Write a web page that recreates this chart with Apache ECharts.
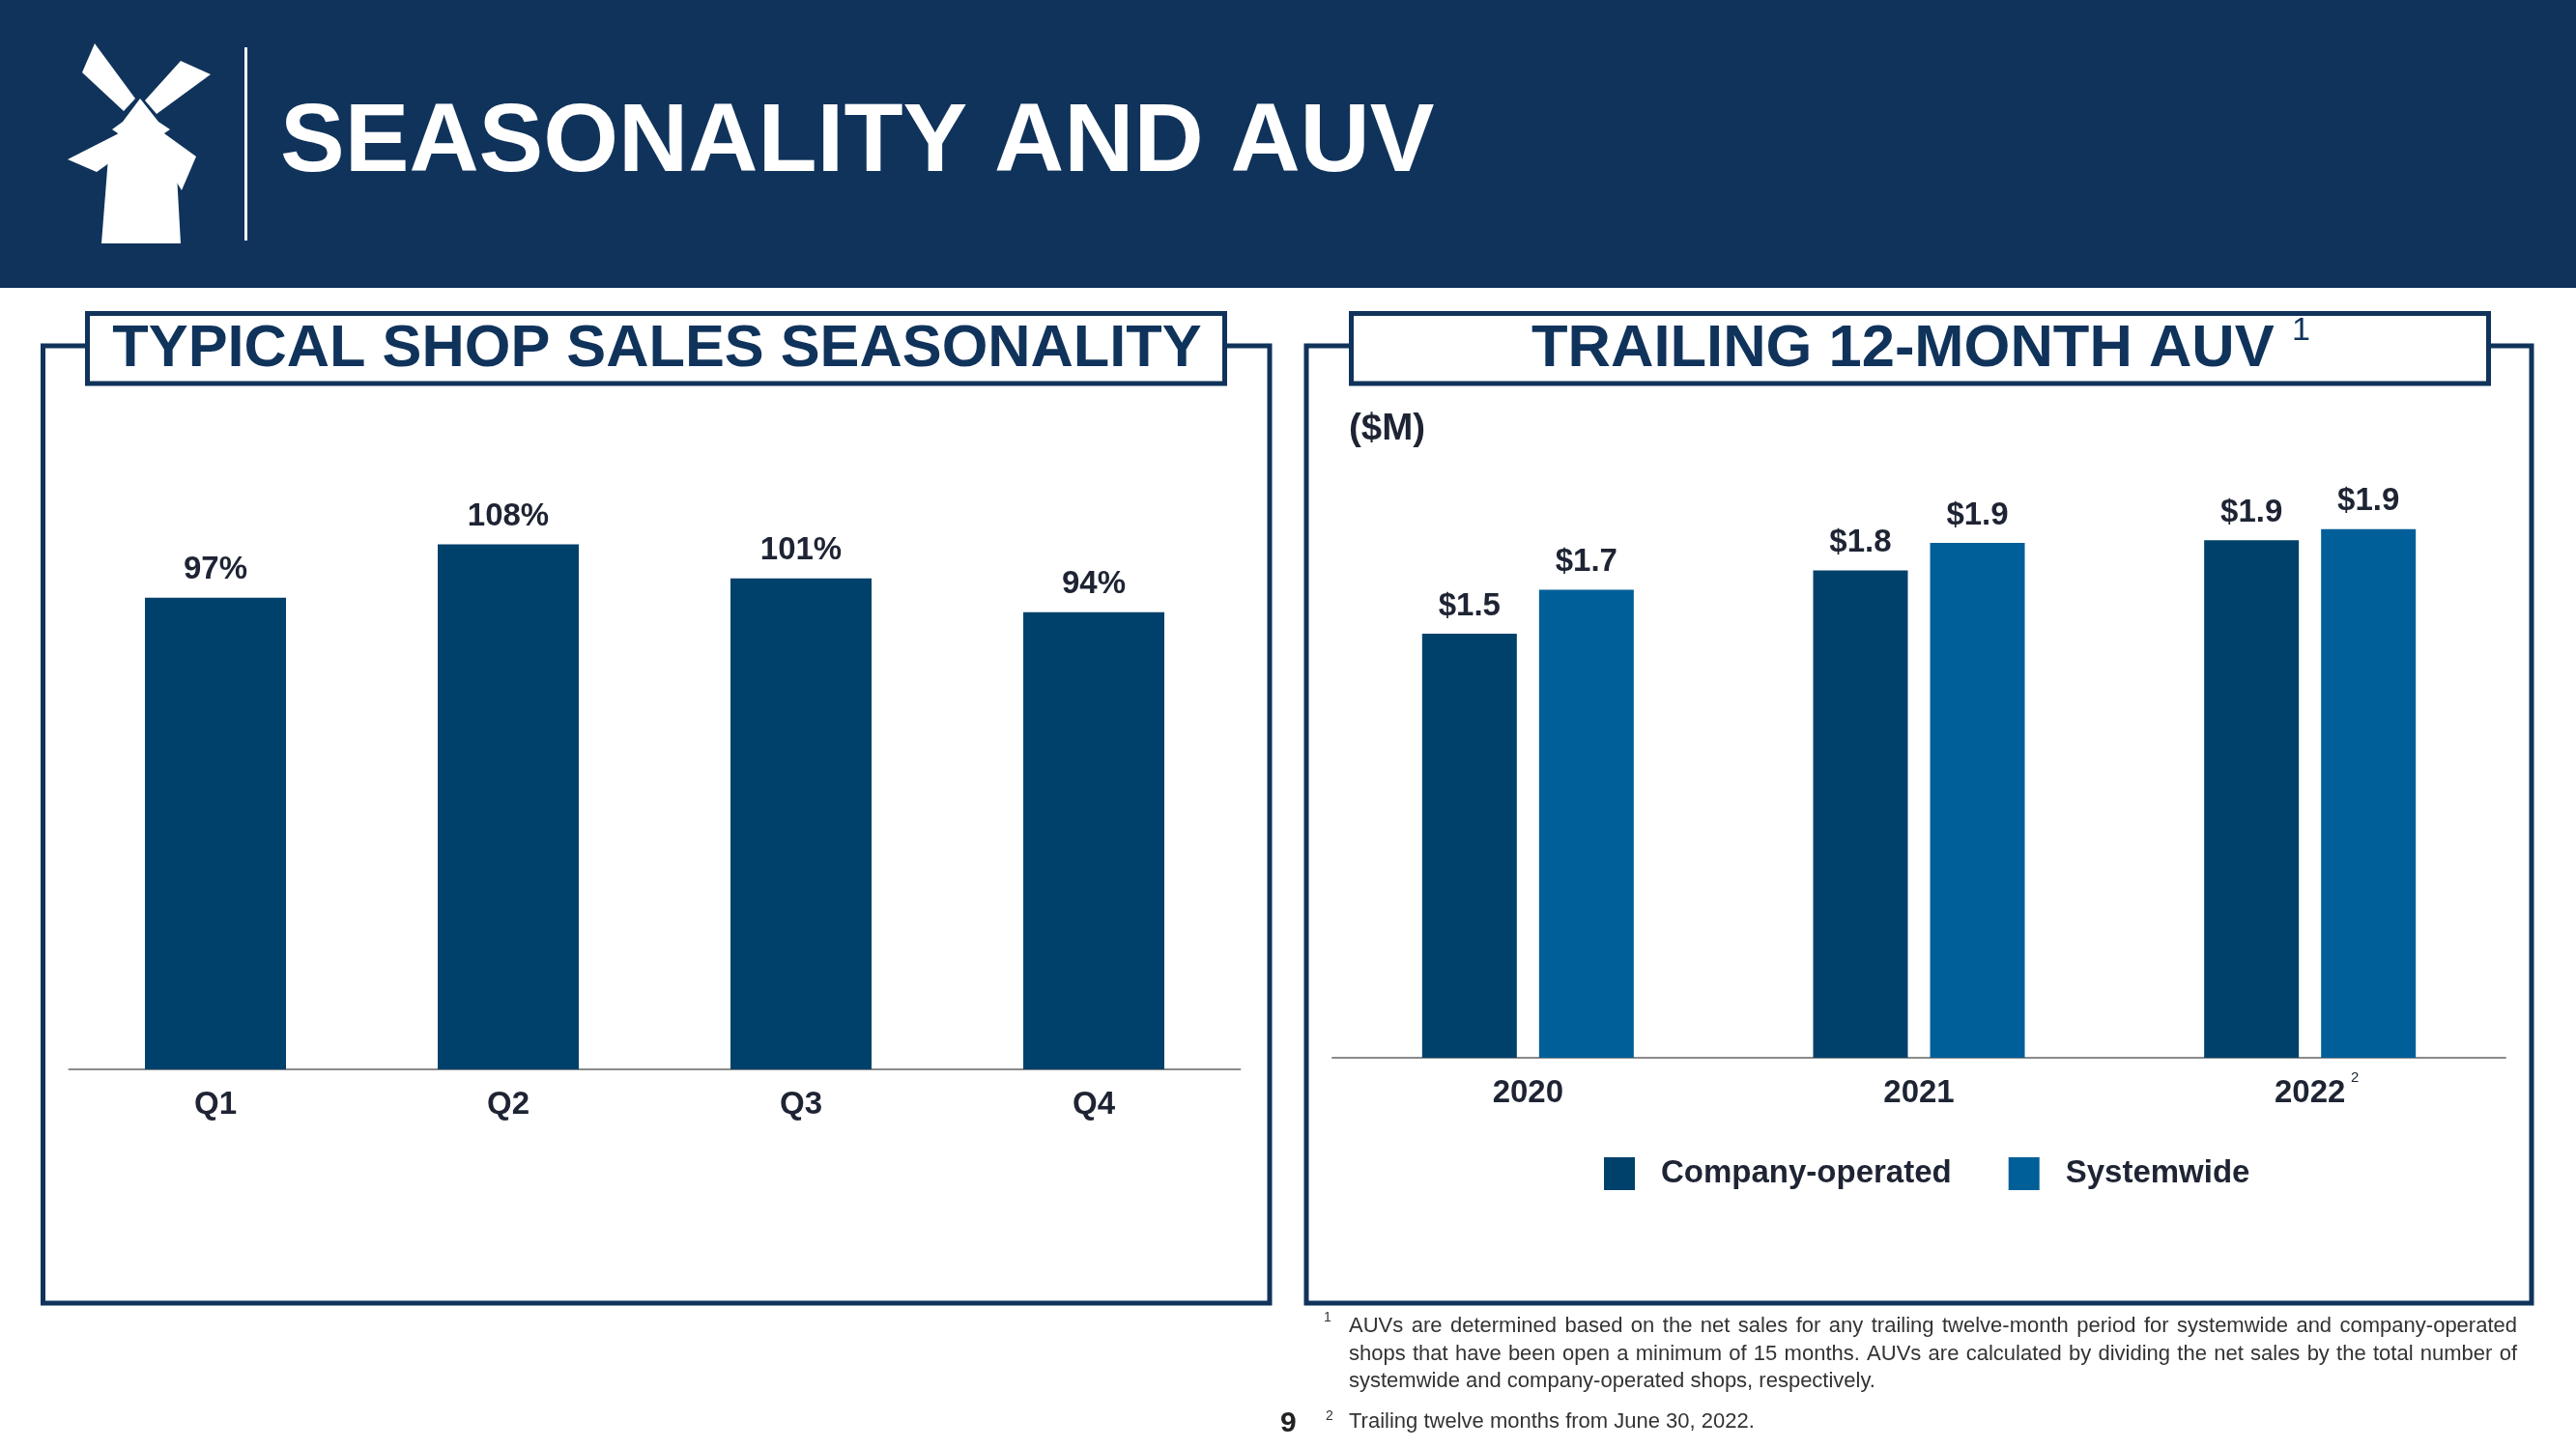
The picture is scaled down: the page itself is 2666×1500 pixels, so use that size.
<!DOCTYPE html>
<html>
<head>
<meta charset="utf-8">
<script src="https://cdn.jsdelivr.net/npm/echarts@6/dist/echarts.min.js"></script>
<style>
html,body{margin:0;padding:0;background:#fff;}
#chart{width:2666px;height:1500px;}
</style>
</head>
<body>
<div id="chart"></div>
<script>
// ---- Data ----
const quarters = ['Q1', 'Q2', 'Q3', 'Q4'];
const seasonalityPct = [97, 108, 101, 94];
const years = ['2020', '2021', '2022'];
const companyOperatedAUV = [1.54, 1.77, 1.88];
const systemwideAUV = [1.70, 1.87, 1.92];
const seriesNames = ['Company-operated', 'Systemwide'];
const footnoteLines = [
  'AUVs are determined based on the net sales for any trailing twelve-month period for systemwide and company-operated',
  'shops that have been open a minimum of 15 months. AUVs are calculated by dividing the net sales by the total number of',
  'systemwide and company-operated shops, respectively.'
];
const footnote2 = 'Trailing twelve months from June 30, 2022.';

// ---- Styles ----
const NAVY = '#10335b';
const BAR_DARK = '#00416b';
const BAR_LIGHT = '#005f98';
const TXT = '#1e2433';
const FN = '#333333';
const FONT = '"Liberation Sans", Arial, sans-serif';

const chart = echarts.init(document.getElementById('chart'), null, {renderer: 'canvas'});

function txt(x, y, text, size, weight, fill, align) {
  return {type: 'text', x: x, y: y, z: 10,
    style: {text: text, fontSize: size, fontWeight: weight, fontFamily: FONT, fill: fill,
      align: align || 'left', verticalAlign: 'middle'}};
}

// justified footnote line: words spread to fill the given width
const measureCtx = document.createElement('canvas').getContext('2d');
measureCtx.font = '22px ' + FONT;
function justifiedLine(x, y, text, width) {
  const words = text.split(' ');
  const widths = words.map(w => measureCtx.measureText(w).width);
  const total = widths.reduce((a, b) => a + b, 0);
  const gap = (width - total) / (words.length - 1);
  const out = [];
  let cx = x;
  words.forEach((w, i) => {
    out.push(txt(cx, y, w, 22, 'normal', FN));
    cx += widths[i] + gap;
  });
  return out;
}

const graphics = [
  {type: 'rect', z: 0, shape: {x: 0, y: 0, width: 2666, height: 298}, style: {fill: NAVY}},
  // windmill logo
  {type: 'polygon', z: 1, shape: {points: [[105,252],[187,252],[182,163],[170,138],[176,134],[164,126],[145,102],[127,126],[116,134],[122,138],[112,163]]}, style: {fill: '#fff'}},
  {type: 'polygon', z: 1, shape: {points: [[98,45],[140,102],[128,115],[85,75]]}, style: {fill: '#fff'}},
  {type: 'polygon', z: 1, shape: {points: [[187,63],[218,77],[162,118],[150,104]]}, style: {fill: '#fff'}},
  {type: 'polygon', z: 1, shape: {points: [[125,137],[70,165],[100,178],[131,156]]}, style: {fill: '#fff'}},
  {type: 'polygon', z: 1, shape: {points: [[167,136],[203,162],[188,197],[165,160]]}, style: {fill: '#fff'}},
  {type: 'rect', z: 1, shape: {x: 253, y: 49, width: 3, height: 200}, style: {fill: '#fff'}},
  txt(290, 149, 'SEASONALITY AND AUV', 100, 'bold', '#fff'),
  // panel frames
  {type: 'rect', z: 1, shape: {x: 44.5, y: 358, width: 1269.5, height: 991}, style: {fill: null, stroke: NAVY, lineWidth: 5}},
  {type: 'rect', z: 1, shape: {x: 1352, y: 358, width: 1268, height: 991}, style: {fill: null, stroke: NAVY, lineWidth: 5}},
  {type: 'rect', z: 2, shape: {x: 90.5, y: 324.5, width: 1177, height: 72.5}, style: {fill: '#fff', stroke: NAVY, lineWidth: 5}},
  {type: 'rect', z: 2, shape: {x: 1398.5, y: 324.5, width: 1177, height: 72.5}, style: {fill: '#fff', stroke: NAVY, lineWidth: 5}},
  txt(680, 362, 'TYPICAL SHOP SALES SEASONALITY', 61.3, 'bold', NAVY, 'center'),
  txt(1585, 362, 'TRAILING 12-MONTH AUV', 61.5, 'bold', NAVY),
  txt(2372, 343, '1', 34, 'normal', NAVY),
  txt(1396, 444, '($M)', 38.5, 'bold', TXT),
  txt(2433, 1116, '2', 15, 'normal', TXT),
  // footnotes
  txt(1370, 1364, '1', 14, 'normal', FN),
  ...justifiedLine(1396, 1373, footnoteLines[0], 1209),
  ...justifiedLine(1396, 1402, footnoteLines[1], 1209),
  txt(1396, 1430, footnoteLines[2], 22, 'normal', FN),
  txt(1372, 1466, '2', 14, 'normal', FN),
  txt(1396, 1472, footnote2, 22, 'normal', FN),
  txt(1325, 1474, '9', 30, 'bold', '#222')
];

const labelStyle = {show: true, position: 'top', color: TXT, fontFamily: FONT, fontWeight: 'bold', fontSize: 33};

const option = {
  animation: false,
  backgroundColor: '#fff',
  graphic: {elements: graphics},
  legend: {
    data: seriesNames,
    left: 1655, top: 1193,
    icon: 'rect', itemWidth: 32, itemHeight: 34, itemGap: 59,
    textStyle: {color: TXT, fontFamily: FONT, fontWeight: 'bold', fontSize: 33, padding: [0, 0, 0, 22]},
    selectedMode: false
  },
  grid: [
    {left: 71.5, top: 503, width: 1212, height: 604},
    {left: 1379, top: 525, width: 1214, height: 570}
  ],
  xAxis: [
    {type: 'category', gridIndex: 0, data: quarters,
      axisLine: {lineStyle: {color: '#8a8a8a', width: 2}}, axisTick: {show: false},
      axisLabel: {margin: 20, color: TXT, fontFamily: FONT, fontWeight: 'bold', fontSize: 33}},
    {type: 'category', gridIndex: 1, data: years,
      axisLine: {lineStyle: {color: '#8a8a8a', width: 2}}, axisTick: {show: false},
      axisLabel: {margin: 20, color: TXT, fontFamily: FONT, fontWeight: 'bold', fontSize: 33}}
  ],
  yAxis: [
    {type: 'value', gridIndex: 0, min: 0, max: 120, show: false},
    {type: 'value', gridIndex: 1, min: 0, max: 2, show: false}
  ],
  series: [
    {type: 'bar', xAxisIndex: 0, yAxisIndex: 0, data: seasonalityPct, barWidth: 146,
      itemStyle: {color: BAR_DARK},
      label: Object.assign({}, labelStyle, {distance: 12, formatter: p => p.value + '%'})},
    {type: 'bar', name: seriesNames[0], xAxisIndex: 1, yAxisIndex: 1, data: companyOperatedAUV,
      barWidth: 98, barGap: '23.5%', itemStyle: {color: BAR_DARK},
      label: Object.assign({}, labelStyle, {distance: 12, formatter: p => '$' + p.value.toFixed(1)})},
    {type: 'bar', name: seriesNames[1], xAxisIndex: 1, yAxisIndex: 1, data: systemwideAUV,
      barWidth: 98, barGap: '23.5%', itemStyle: {color: BAR_LIGHT},
      label: Object.assign({}, labelStyle, {distance: 12, formatter: p => '$' + p.value.toFixed(1)})}
  ]
};
chart.setOption(option);
</script>
</body>
</html>
